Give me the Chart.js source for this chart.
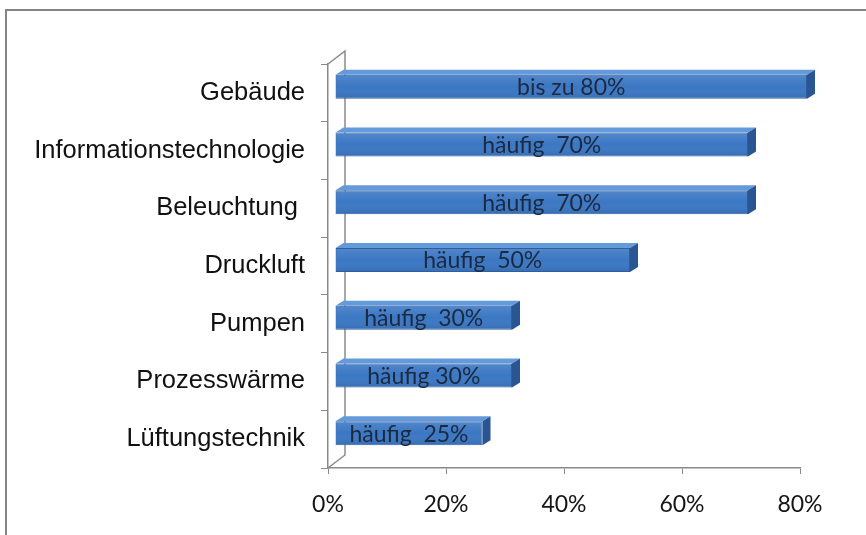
<!DOCTYPE html>
<html lang="de">
<head>
<meta charset="UTF-8">
<title>Einsparpotenziale</title>
<script src="https://cdn.jsdelivr.net/npm/chart.js"></script>
<style>
  html, body { margin: 0; padding: 0; background: #fff; }
</style>
</head>
<body>
<canvas id="myChart" width="866" height="535"></canvas>
<script>
// categories, values and label texts
const categories = ['Gebäude', 'Informationstechnologie', 'Beleuchtung ', 'Druckluft', 'Pumpen', 'Prozesswärme', 'Lüftungstechnik'];
const savings = [80, 70, 70, 50, 30, 30, 25];
const labelPrefixes = ['bis zu ', 'häufig  ', 'häufig  ', 'häufig  ', 'häufig  ', 'häufig ', 'häufig  '];
const xTicks = [0, 20, 40, 60, 80];

// pseudo 3D settings
const WALL = { dx: 17, dy: -13 };
const BAR_SHIFT = { dx: 7, dy: -6 };
const BAR_DEPTH = { dx: 8, dy: -5 };
const AXIS_COLOR = '#8a8a8a';

// outer frame (only top and left edges are visible)
const framePlugin = {
    id: 'frame',
    beforeDraw(chart) {
        const ctx = chart.ctx;
        ctx.save();
        ctx.fillStyle = '#fff';
        ctx.fillRect(0, 0, chart.width, chart.height);
        ctx.strokeStyle = '#858585';
        ctx.lineWidth = 2;
        ctx.beginPath();
        ctx.moveTo(6, chart.height);
        ctx.lineTo(6, 10);
        ctx.lineTo(chart.width, 10);
        ctx.stroke();
        ctx.restore();
    }
};

// back wall lines, then shift the bars into the depth
const depthPlugin = {
    id: 'depth',
    beforeDatasetsDraw(chart) {
        const { ctx, chartArea: a } = chart;
        ctx.save();
        ctx.strokeStyle = AXIS_COLOR;
        ctx.lineWidth = 1.5;
        ctx.beginPath();
        ctx.moveTo(a.left, a.top);
        ctx.lineTo(a.left + WALL.dx, a.top + WALL.dy);
        ctx.lineTo(a.left + WALL.dx, a.bottom + WALL.dy);
        ctx.lineTo(a.left, a.bottom);
        ctx.stroke();
        ctx.restore();

        ctx.save();
        ctx.translate(BAR_SHIFT.dx, BAR_SHIFT.dy);
    },
    afterDatasetsDraw(chart) {
        const ctx = chart.ctx;
        const meta = chart.getDatasetMeta(0);
        meta.data.forEach((bar, i) => {
            const { x, y, base, height } = bar.getProps(['x', 'y', 'base', 'height'], true);
            const top = y - height / 2;
            const bottom = y + height / 2;

            // soft shading on the front face
            const shade = ctx.createLinearGradient(0, top, 0, bottom);
            shade.addColorStop(0, 'rgba(255,255,255,0.12)');
            shade.addColorStop(0.5, 'rgba(255,255,255,0)');
            shade.addColorStop(1, 'rgba(0,20,60,0.12)');
            ctx.fillStyle = shade;
            ctx.fillRect(base + 1, top + 1, x - base - 2, height - 2);

            // top face
            ctx.fillStyle = '#6499da';
            ctx.beginPath();
            ctx.moveTo(base, top);
            ctx.lineTo(base + BAR_DEPTH.dx, top + BAR_DEPTH.dy);
            ctx.lineTo(x + BAR_DEPTH.dx, top + BAR_DEPTH.dy);
            ctx.lineTo(x, top);
            ctx.closePath();
            ctx.fill();

            // side face
            ctx.fillStyle = '#2a5593';
            ctx.beginPath();
            ctx.moveTo(x, top);
            ctx.lineTo(x + BAR_DEPTH.dx, top + BAR_DEPTH.dy);
            ctx.lineTo(x + BAR_DEPTH.dx, bottom + BAR_DEPTH.dy);
            ctx.lineTo(x, bottom);
            ctx.closePath();
            ctx.fill();

            // value label in the middle of the front face
            ctx.fillStyle = '#1b2a40';
            ctx.font = '23px Lato';
            ctx.textAlign = 'center';
            ctx.textBaseline = 'middle';
            ctx.fillText(labelPrefixes[i] + savings[i] + '%', (base + x) / 2, y + 1);
        });
        ctx.restore();
    }
};

const ctx = document.getElementById('myChart').getContext('2d');
const myChart = new Chart(ctx, {
    type: 'bar',
    data: {
        labels: categories,
        datasets: [{
            data: savings,
            backgroundColor: '#3b77c3',
            borderColor: '#2e5e9c',
            borderWidth: 1,
            categoryPercentage: 0.8,
            barPercentage: 0.52
        }]
    },
    options: {
        indexAxis: 'y',
        responsive: false,
        animation: false,
        layout: { padding: { top: 64, right: 66, left: 0, bottom: 0 } },
        plugins: {
            legend: { display: false },
            tooltip: { enabled: false }
        },
        scales: {
            x: {
                min: 0,
                max: 80,
                afterFit(scale) { scale.height = 67; },
                afterBuildTicks(scale) { scale.ticks = xTicks.map(v => ({ value: v })); },
                grid: { drawOnChartArea: false, tickLength: 6, color: AXIS_COLOR },
                border: { color: AXIS_COLOR, width: 1.5 },
                ticks: {
                    callback: v => v + '%',
                    font: { family: 'Lato', size: 23 },
                    color: '#151515',
                    padding: 17,
                    maxRotation: 0
                }
            },
            y: {
                afterFit(scale) { scale.width = 328; },
                grid: { drawOnChartArea: false, tickLength: 7, color: AXIS_COLOR, offset: true },
                border: { color: AXIS_COLOR, width: 1.5 },
                ticks: {
                    font: { family: 'Liberation Sans', size: 25.5 },
                    color: '#111',
                    padding: 16
                }
            }
        }
    },
    plugins: [framePlugin, depthPlugin]
});
</script>
</body>
</html>
